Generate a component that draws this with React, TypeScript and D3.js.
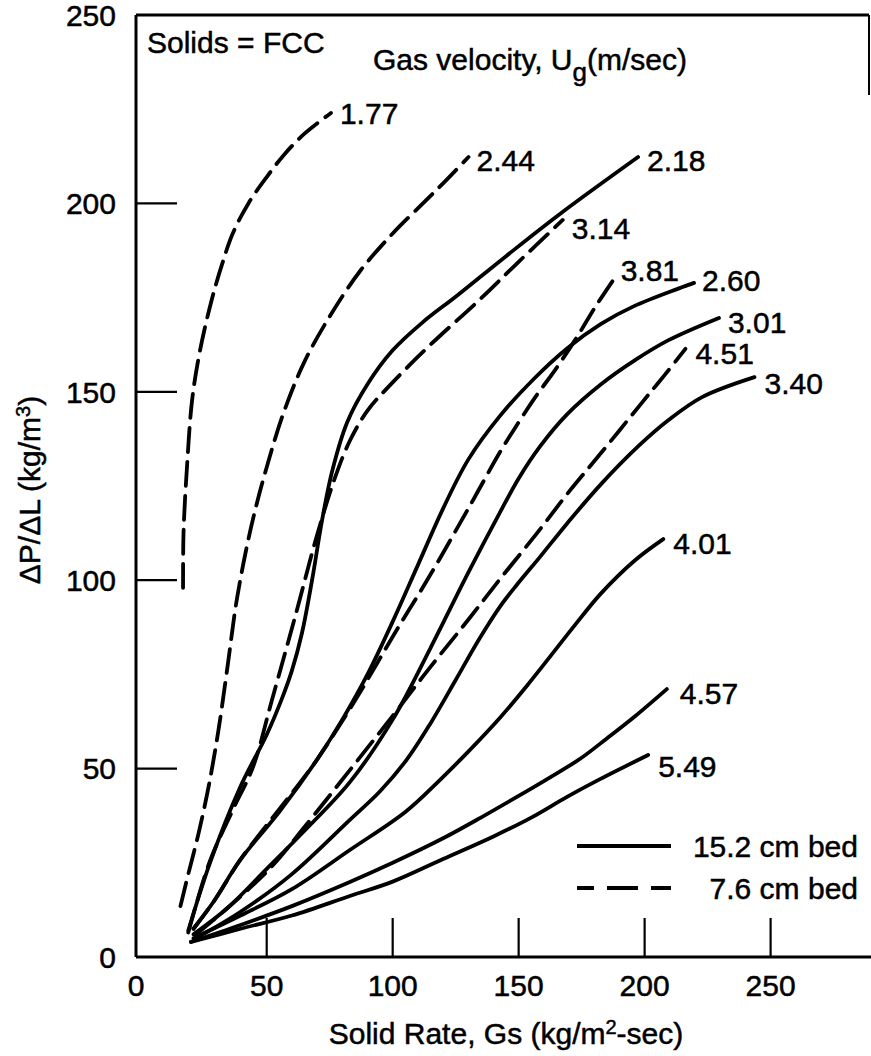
import React from "react";
import * as d3 from "d3";

const W = 871;
const H = 1056;

const xTicks = [0, 50, 100, 150, 200, 250];
const yTicks = [0, 50, 100, 150, 200, 250];

const seriesNames = ["1.77", "2.44", "2.18", "3.14", "3.81", "2.60", "3.01", "4.51", "3.40", "4.01", "4.57", "5.49"];
const seriesBed = ["7.6", "7.6", "15.2", "7.6", "7.6", "15.2", "15.2", "7.6", "15.2", "15.2", "15.2", "15.2"];

const s177 = [[18, 98], [18.2, 113], [19.5, 130], [21.5, 148], [24.5, 161], [29, 174.5], [33, 184], [37, 192], [43, 200], [50, 207], [57, 213], [65, 218.5], [75.5, 224]];
const s244 = [[17, 13.5], [20, 22], [24, 33], [28, 46], [31.5, 60], [35, 77], [38.6, 95], [44, 114], [50, 130], [57, 145], [65, 158], [75, 170], [87, 182], [100, 192], [112, 200], [121, 206], [130.1, 212.3]];
const s218 = [[20, 7], [28.3, 25], [39.8, 45], [50, 59], [56, 68.5], [60, 76], [64, 86], [68, 100], [72, 116], [76, 129], [82, 142], [90, 152], [100, 161], [112, 168.5], [125.5, 175.5], [145, 186], [166, 197], [197.4, 212.3]];
const s314 = [[20, 6.5], [28.3, 25.5], [37, 39], [44.8, 50.5], [52, 68], [61.8, 91.6], [70, 112], [77, 127], [83, 137], [90, 145], [100, 152.5], [115, 162.5], [134.6, 174.5], [150, 184.5], [167.5, 195.6]];
const s381 = [[22, 7.5], [30, 15], [39.8, 25.7], [50, 35], [60, 43.5], [70, 52.4], [85, 68], [100, 85], [115, 101.5], [130, 119], [142.6, 134], [148, 139.8], [156, 148], [165.2, 156.5], [173.4, 164.8], [179.9, 172], [188.1, 180.2]];
const s260 = [[22, 7.5], [30, 15], [39.8, 25.7], [55, 38.5], [70, 52.4], [80, 63], [90, 75], [100, 89], [110, 104], [120, 119], [130, 132], [142.6, 143.6], [156, 153.4], [169.2, 161.5], [182.7, 168], [196, 172.8], [219.6, 178.9]];
const s301 = [[22, 6], [35, 13], [50, 23.4], [65, 33.5], [83, 46.4], [100, 63], [115, 82], [130, 102], [142.6, 118], [150, 127], [158.5, 135.5], [169.2, 144], [182.7, 152], [196.2, 158.4], [209.5, 163.7], [229.5, 169.6]];
const s451 = [[23, 6], [35, 13], [52, 24], [65, 34.5], [83, 49.6], [100, 64], [115, 77], [130, 89.5], [142.6, 100.3], [157.3, 112.5], [170, 123.5], [183, 134], [198.8, 147], [208, 154.5], [216.2, 161.4]];
const s340 = [[23, 5], [40, 12], [60, 22], [83, 36.4], [95, 44], [105.5, 52.3], [115, 62], [125, 73.5], [134, 84], [142.6, 93], [149.3, 98.8], [158.5, 106.2], [169.4, 115.2], [182.7, 125.5], [197.4, 135.5], [209.5, 142.5], [222.8, 148.6], [243.6, 153.9]];
const s401 = [[22, 5], [40, 11], [60, 18], [83, 28.4], [105, 38.5], [118, 46.5], [130, 54.5], [142.6, 63.5], [153.3, 72], [162.7, 79.9], [172, 87.8], [182.7, 96.5], [196.2, 105.3], [207.4, 110.9]];
const s457 = [[21, 4], [40, 8.5], [60, 13.5], [83, 19.9], [100, 25], [120, 31.5], [135, 37], [149.3, 42.5], [162, 47.5], [174.4, 52.6], [185, 58], [196.2, 63.9], [208.8, 71.1]];
const s549 = [[21, 4], [40, 7.5], [60, 11], [83, 16.2], [100, 20], [120, 26], [140, 32], [155, 37], [169.2, 42.5], [182.3, 47.2], [201.4, 53.6]];

const seriesData = [s177, s244, s218, s314, s381, s260, s301, s451, s340, s401, s457, s549];

// label offsets in px (style, not data)
const labelOffsets = [[9, 0], [8, 3], [9, 3], [9, 8], [6, -8], [8, -3], [9, 4], [10, 4], [10, 6], [10, 4], [13, 4], [10, 11]];

const legendItems = ["15.2 cm bed", "7.6 cm bed"];

const FONT = "'Liberation Sans', Arial, Helvetica, sans-serif";
const FS = 30;
const DASH = "24,10";

export default function App() {
  const x = d3.scaleLinear().domain([0, 50, 250]).range([136, 266.7, 770.6]);
  const y = d3.scaleLinear().domain([0, 250]).range([957, 15]);
  const line = d3
    .line<number[]>()
    .x((d) => x(d[0]))
    .y((d) => y(d[1]))
    .curve(d3.curveCatmullRom.alpha(0.5));

  const x0 = x(0);
  const xRight = 869;
  const txt = { fontSize: FS, stroke: "#000", strokeWidth: 0.5 } as const;

  return (
    <svg width={W} height={H} style={{ position: "absolute", left: 0, top: 0, background: "#fff" }} fontFamily={FONT}>
      <rect x={0} y={0} width={W} height={H} fill="#fff" />
      {/* frame */}
      <line x1={x0} x2={x0} y1={y(250)} y2={y(0)} stroke="#000" strokeWidth={3} />
      <line x1={x0} x2={W} y1={y(0)} y2={y(0)} stroke="#000" strokeWidth={3} />
      <line x1={x0} x2={xRight} y1={y(250)} y2={y(250)} stroke="#000" strokeWidth={3} />
      <line x1={xRight} x2={xRight} y1={y(250)} y2={y(250) + 80} stroke="#000" strokeWidth={2} />

      {/* y ticks */}
      {yTicks.map((t) => (
        <g key={"y" + t}>
          {t > 0 && t < 250 && <line x1={x0} x2={x0 + 41} y1={y(t)} y2={y(t)} stroke="#000" strokeWidth={2.2} />}
          <text x={116} y={y(t)} dy="0.36em" textAnchor="end" {...txt}>
            {t}
          </text>
        </g>
      ))}
      {/* x ticks */}
      {xTicks.map((t) => (
        <g key={"x" + t}>
          {t > 0 && <line x1={x(t)} x2={x(t)} y1={y(0)} y2={y(0) - 39} stroke="#000" strokeWidth={2.2} />}
          <text x={x(t)} y={985} dy="0.36em" textAnchor="middle" {...txt}>
            {t}
          </text>
        </g>
      ))}

      {/* axis titles */}
      <text x={506} y={1033} dy="0.36em" textAnchor="middle" {...txt}>
        Solid Rate, Gs (kg/m
        <tspan dy={-10} fontSize={20}>2</tspan>
        <tspan dy={10}>-sec)</tspan>
      </text>
      <text transform={`translate(29,${490}) rotate(-90)`} textAnchor="middle" dy="0.36em" {...txt}>
        ΔP/ΔL (kg/m
        <tspan dy={-10} fontSize={20}>3</tspan>
        <tspan dy={10}>)</tspan>
      </text>

      {/* annotations */}
      <text x={147} y={53} {...txt}>
        Solids = FCC
      </text>
      <text x={373} y={70} {...txt}>
        Gas velocity, U
        <tspan dy={11} fontSize={26}>g</tspan>
        <tspan dy={-11}>(m/sec)</tspan>
      </text>

      {/* curves */}
      {seriesData.map((d, i) => (
        <path
          key={seriesNames[i]}
          d={line(d) || ""}
          fill="none"
          stroke="#000"
          strokeWidth={3.8}
          strokeLinecap="round"
          strokeDasharray={seriesBed[i] === "7.6" ? DASH : undefined}
        />
      ))}
      {seriesData.map((d, i) => {
        const last = d[d.length - 1];
        return (
          <text key={"l" + i} x={x(last[0]) + labelOffsets[i][0]} y={y(last[1]) + labelOffsets[i][1]} dy="0.36em" {...txt}>
            {seriesNames[i]}
          </text>
        );
      })}

      {/* legend */}
      {legendItems.map((lbl, i) => (
        <g key={lbl}>
          <line x1={577} x2={671} y1={846 + i * 42} y2={846 + i * 42} stroke="#000" strokeWidth={4} strokeDasharray={i === 1 ? "17,13,31,13,22" : undefined} />
          <text x={858} y={846 + i * 42} dy="0.36em" textAnchor="end" {...txt}>
            {lbl}
          </text>
        </g>
      ))}
    </svg>
  );
}
